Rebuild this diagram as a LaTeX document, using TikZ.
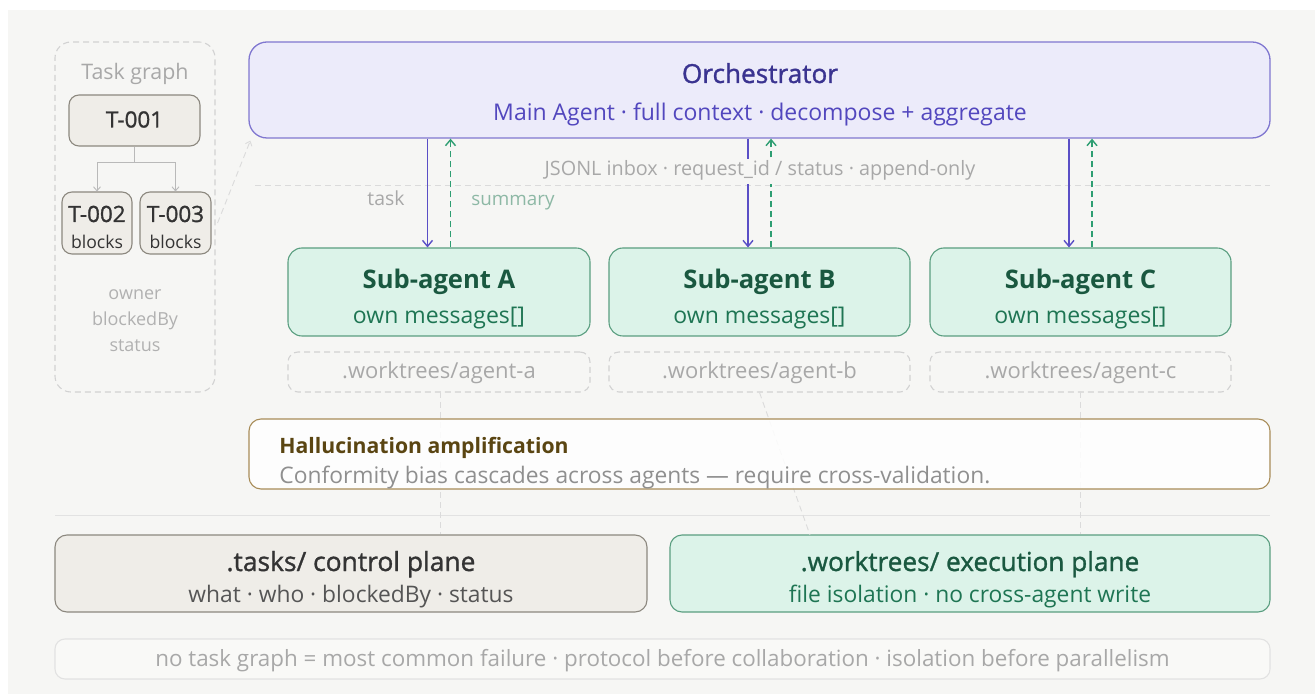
\documentclass[tikz,border=0pt]{standalone}
\usepackage{fontspec}
\setmainfont{Open Sans}
\newfontfamily\medfont[FakeBold=1.2]{Open Sans}
\usetikzlibrary{fit,arrows.meta,backgrounds}

\definecolor{panel}{HTML}{F6F6F4}
\definecolor{orchfill}{HTML}{ECEBFA}
\definecolor{orchline}{HTML}{8077D0}
\definecolor{orchtitle}{HTML}{3A3390}
\definecolor{orchsub}{HTML}{5247BE}
\definecolor{agfill}{HTML}{DCF3E9}
\definecolor{agline}{HTML}{5A9E80}
\definecolor{agtitle}{HTML}{1A5840}
\definecolor{agsub}{HTML}{1E7553}
\definecolor{taskcol}{HTML}{5A4FC6}
\definecolor{sumcol}{HTML}{2E9E72}
\definecolor{sumtext}{HTML}{8DB8A5}
\definecolor{tanfill}{HTML}{EFEDE8}
\definecolor{tanline}{HTML}{8C887F}
\definecolor{tantitle}{HTML}{333333}
\definecolor{tansub}{HTML}{555555}
\definecolor{warnline}{HTML}{A88C58}
\definecolor{warntitle}{HTML}{5A4512}
\definecolor{warnbody}{HTML}{8F8F8F}
\definecolor{faint}{HTML}{A8A8A8}
\definecolor{faintline}{HTML}{D2D2D2}
\definecolor{rule}{HTML}{E2E2E2}

\newcommand{\fsz}[1]{\fontsize{#1}{#1}\selectfont}

\tikzset{
  box/.style={rectangle, inner sep=0pt, line width=0.55pt},
  orchbox/.style={box, draw=orchline, fill=orchfill, line width=0.65pt, rounded corners=9pt},
  agentbox/.style={box, draw=agline, fill=agfill, rounded corners=7pt},
  tanbox/.style={box, draw=tanline, fill=tanfill, rounded corners=5pt},
  wtbox/.style={box, draw=faintline, dash pattern=on 3pt off 2pt, rounded corners=5pt},
  groupbox/.style={box, draw=faintline, dash pattern=on 3pt off 2pt, rounded corners=8pt},
  warnbox/.style={box, draw=warnline, fill=white, fill opacity=0.85, rounded corners=6pt},
  notebox/.style={box, draw=rule, fill=white, fill opacity=0.35, rounded corners=5pt},
  txt/.style={inner sep=0pt, text height=0.7em, text depth=0pt},
  chan/.style={fill=panel, inner xsep=2pt, inner ysep=1.5pt, text height=0.7em, text depth=0.25em},
  taskarr/.style={draw=taskcol, line width=0.7pt, -{Straight Barb[length=3pt,width=5pt]}},
  sumarr/.style={draw=sumcol, line width=0.7pt, dash pattern=on 3pt off 2pt, -{Straight Barb[length=3pt,width=5pt]}},
  treearr/.style={draw=faint!80, line width=0.45pt, -{Straight Barb[length=2pt,width=3.5pt]}},
  guide/.style={draw=faintline!80, line width=0.45pt, dash pattern=on 3pt off 2pt},
}

\begin{document}
\begin{tikzpicture}[x=0.5pt, y=-0.5pt]
  % canvas
  \useasboundingbox (0,0) rectangle (1315,694);
  \begin{scope}[on background layer]
    \fill[white] (0,0) rectangle (1315,694);
    \fill[panel] (8,10) rectangle (1315,694);
  \end{scope}

  % guide lines drawn first so boxes sit over them
  \draw[guide] (255,185) -- (1270,185);
  \draw[rule, line width=0.5pt] (55,515) -- (1270,515);

  % ---------- task graph ----------
  \node[groupbox, fit={(55,42) (215,392)}] (tg) {};
  \node[txt, text=faint] at (135,73) {\fsz{10.7}Task graph};
  \node[tanbox, fit={(69,95) (200,146)}] (t1) {};
  \node[txt, text=tantitle] at (t1.center) {\fsz{11.2}\medfont T-001};
  \node[tanbox, fit={(62,192) (132,254)}] (t2) {};
  \node[tanbox, fit={(140,192) (211,254)}] (t3) {};
  \node[txt, text=tantitle] at (97,215) {\fsz{11.2}\medfont T-002};
  \node[txt, text=tantitle] at (97,242) {\fsz{8.8}blocks};
  \node[txt, text=tantitle] at (175.5,215) {\fsz{11.2}\medfont T-003};
  \node[txt, text=tantitle] at (175.5,242) {\fsz{8.8}blocks};
  \draw[treearr] (t1.south) -- ++(0,16) -| (t2.north);
  \draw[treearr] (t1.south) -- ++(0,16) -| (t3.north);
  \node[txt, text=faint!90] at (135,293) {\fsz{9}owner};
  \node[txt, text=faint!90] at (135,319) {\fsz{9}blockedBy};
  \node[txt, text=faint!90] at (135,345) {\fsz{9}status};

  % ---------- orchestrator ----------
  \node[orchbox, fit={(249,42) (1270,138)}] (orch) {};
  \node[txt, text=orchtitle] at (760,76) {\fsz{13.1}\medfont Orchestrator};
  \node[txt, text=orchsub] at (760,114) {\fsz{11.5}Main Agent · full context · decompose + aggregate};
  \draw[guide, -{Straight Barb[length=2pt,width=3.5pt]}] ([xshift=3pt]t3.east) -- ([xshift=1pt,yshift=-1pt]orch.south west);

  % ---------- sub-agents ----------
  \node[agentbox, fit={(288,248) (590,336)}] (subA) {};
  \node[agentbox, fit={(609,248) (910,336)}] (subB) {};
  \node[agentbox, fit={(930,248) (1231,336)}] (subC) {};
  \foreach \n/\l in {subA/A, subB/B, subC/C}{
    \node[txt, text=agtitle] at ([yshift=-17pt]\n.north) {\fsz{12.8}\bfseries Sub-agent \l};
    \node[txt, text=agsub] at ([yshift=-34.5pt]\n.north) {\fsz{11.5}own messages[]};
  }

  % worktree folders under each agent
  \node[wtbox, fit={(288,352) (590,392)}] (wtA) {};
  \node[wtbox, fit={(609,352) (910,392)}] (wtB) {};
  \node[wtbox, fit={(930,352) (1231,392)}] (wtC) {};
  \foreach \n/\l in {wtA/a, wtB/b, wtC/c}{
    \node[txt, text=faint] at (\n.center) {\fsz{11}.worktrees/agent-\l};
  }

  % ---------- messaging between orchestrator and agents ----------
  \foreach \n in {subA, subB, subC}{
    \coordinate (\n-in) at ([xshift=-5.75pt]\n.north);
    \coordinate (\n-out) at ([xshift=5.75pt]\n.north);
    \draw[taskarr] (orch.south -| \n-in) -- (\n-in);
    \draw[sumarr] (\n-out) -- (orch.south -| \n-out);
  }
  \node[txt, text=faint] at (386,199) {\fsz{9.7}task};
  \node[txt, text=sumtext] at (513,199) {\fsz{9.4}summary};
  % channel label sits over the message lines
  \node[chan, text=faint] at (760,171.5) {\fsz{9.9}JSONL inbox · request\_id / status · append-only};

  % ---------- planes ----------
  \node[tanbox, rounded corners=6pt, fit={(55,535) (647,612)}] (ctl) {};
  \node[agentbox, rounded corners=6pt, fit={(670,535) (1270,612)}] (exe) {};
  \coordinate (wtAfoot) at (440,392);
  \coordinate (wtCfoot) at (1080,392);
  \coordinate (exeB) at (810,535);

  % worktree links down to the planes
  \draw[guide] (wtAfoot) -- (ctl.north -| wtAfoot);
  \draw[guide] (wtB.south) -- (exeB);
  \draw[guide] (wtCfoot) -- (exe.north -| wtCfoot);

  \node[txt, text=tantitle] at (351,564) {\fsz{13.2}\medfont .tasks/ control plane};
  \node[txt, text=tansub] at (351,595) {\fsz{11.4}what · who · blockedBy · status};
  \node[txt, text=agtitle] at (970,564) {\fsz{13.1}\medfont .worktrees/ execution plane};
  \node[txt, text=agsub] at (970,595) {\fsz{11.4}file isolation · no cross-agent write};

  % ---------- warning ----------
  \node[warnbox, fit={(249,419) (1270,489)}] (warn) {};
  \node[txt, anchor=west, text=warntitle] at (279,446) {\fsz{10.6}\bfseries Hallucination amplification};
  \node[txt, anchor=west, text=warnbody] at (279,476) {\fsz{11.4}Conformity bias cascades across agents — require cross-validation.};

  % ---------- footer ----------
  \node[notebox, fit={(55,639) (1270,679)}] (note) {};
  \node[txt, text=faint] at (note.center) {\fsz{11.2}no task graph = most common failure · protocol before collaboration · isolation before parallelism};
\end{tikzpicture}
\end{document}
